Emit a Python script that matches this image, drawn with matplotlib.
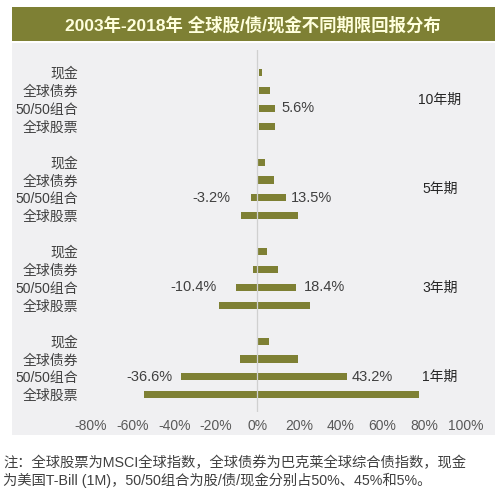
import matplotlib
matplotlib.use("Agg")
import matplotlib.pyplot as plt
from matplotlib.patches import Rectangle

FAM = ['Liberation Sans', 'Noto Sans CJK SC', 'DejaVu Sans']
plt.rcParams['font.family'] = FAM

# ---- data ----
title = "2003年-2018年 全球股/债/现金不同期限回报分布"
categories = ['现金', '全球债券', '50/50组合', '全球股票']
periods = ['10年期', '5年期', '3年期', '1年期']
# min / max returns (%) per period, in category order
mins = {
    '10年期': [0.6, 0.6, 0.6, 0.6],
    '5年期': [0.4, 0.4, -3.2, -7.8],
    '3年期': [0.4, -2.1, -10.4, -18.7],
    '1年期': [0.4, -8.4, -36.6, -54.7],
}
maxs = {
    '10年期': [2.0, 6.0, 8.2, 8.2],
    '5年期': [3.7, 8.0, 13.5, 19.3],
    '3年期': [4.5, 9.8, 18.4, 25.1],
    '1年期': [5.6, 19.3, 43.2, 77.7],
}
# data labels on the 50/50 bars: (period, side, text)
value_labels = [
    ('10年期', 'right', '5.6%'),
    ('5年期', 'left', '-3.2%'),
    ('5年期', 'right', '13.5%'),
    ('3年期', 'left', '-10.4%'),
    ('3年期', 'right', '18.4%'),
    ('1年期', 'left', '-36.6%'),
    ('1年期', 'right', '43.2%'),
]
xticks = [-80, -60, -40, -20, 0, 20, 40, 60, 80, 100]
footnote = ["注：全球股票为MSCI全球指数，全球债券为巴克莱全球综合债指数，现金",
            "为美国T-Bill (1M)，50/50组合为股/债/现金分别占50%、45%和5%。"]

# ---- style ----
OLIVE = '#7E8034'
label_gap_px = {('10年期', 'right'): 7, ('5年期', 'left'): 20, ('5年期', 'right'): 5,
                ('3年期', 'left'): 19, ('3年期', 'right'): 8,
                ('1年期', 'left'): 9, ('1年期', 'right'): 4}
group_label_slot = {'10年期': 1.5, '5年期': 6.5, '3年期': 12.0, '1年期': 17.0}

fig = plt.figure(figsize=(5.0, 4.98), dpi=100)
fig.patch.set_facecolor('white')

# panel and banner
fig.patches.append(Rectangle((0.024, 0.1265), 0.966, 0.787, transform=fig.transFigure,
                             facecolor='#F0F0F2', edgecolor='none', zorder=-2))
fig.patches.append(Rectangle((0.024, 0.9177), 0.966, 0.0683, transform=fig.transFigure,
                             facecolor=OLIVE, edgecolor='none', zorder=-1))
fig.text(0.506, 0.951, title, ha='center', va='center', fontsize=12.5,
         fontweight='bold', color='#FFFFDD', family=FAM)

ax = fig.add_axes([0.182, 0.1727, 0.749, 0.7269])
ax.set_facecolor('none')
ax.set_zorder(5)

yt, yl = [], []
for gi, p in enumerate(periods):
    for ci, c in enumerate(categories):
        slot = gi * 5 + ci
        lo, hi = mins[p][ci], maxs[p][ci]
        ax.barh(slot, hi - lo, left=lo, height=0.4, color=OLIVE, zorder=2)
        yt.append(slot)
        yl.append(c)
    ax.text(87.7, group_label_slot[p], p, ha='center', va='center', fontsize=10,
            color='#262626', family=FAM)

ci5050 = categories.index('50/50组合')
for p, side, txt in value_labels:
    gi = periods.index(p)
    slot = gi * 5 + ci5050
    gap = label_gap_px[(p, side)] * 0.72
    if side == 'left':
        ax.annotate(txt, (mins[p][ci5050], slot), xytext=(-gap, 0), textcoords='offset points',
                    ha='right', va='center', fontsize=10.5, color='#404040')
    else:
        ax.annotate(txt, (maxs[p][ci5050], slot), xytext=(gap, 0), textcoords='offset points',
                    ha='left', va='center', fontsize=10.5, color='#404040')

ax.axvline(0, color='#D0D0D0', lw=0.9, zorder=3)
ax.set_xlim(-80, 100)
ax.set_ylim(18.96, -1.261)
ax.set_xticks(xticks)
ax.set_xticklabels([f'{v}%' for v in xticks], fontsize=10, color='#595959')
ax.set_yticks(yt)
ax.set_yticklabels(yl, fontsize=10, color='#404040')
ax.tick_params(axis='both', length=0)
ax.tick_params(axis='x', pad=5)
ax.tick_params(axis='y', pad=9.5)
for s in ax.spines.values():
    s.set_visible(False)

fig.text(0.006, 0.0703, footnote[0], ha='left', va='center', fontsize=10.3, color='#404040', family=FAM)
fig.text(0.006, 0.0361, footnote[1], ha='left', va='center', fontsize=10.3, color='#404040', family=FAM)

fig.savefig('out.png', dpi=100, facecolor='white')
